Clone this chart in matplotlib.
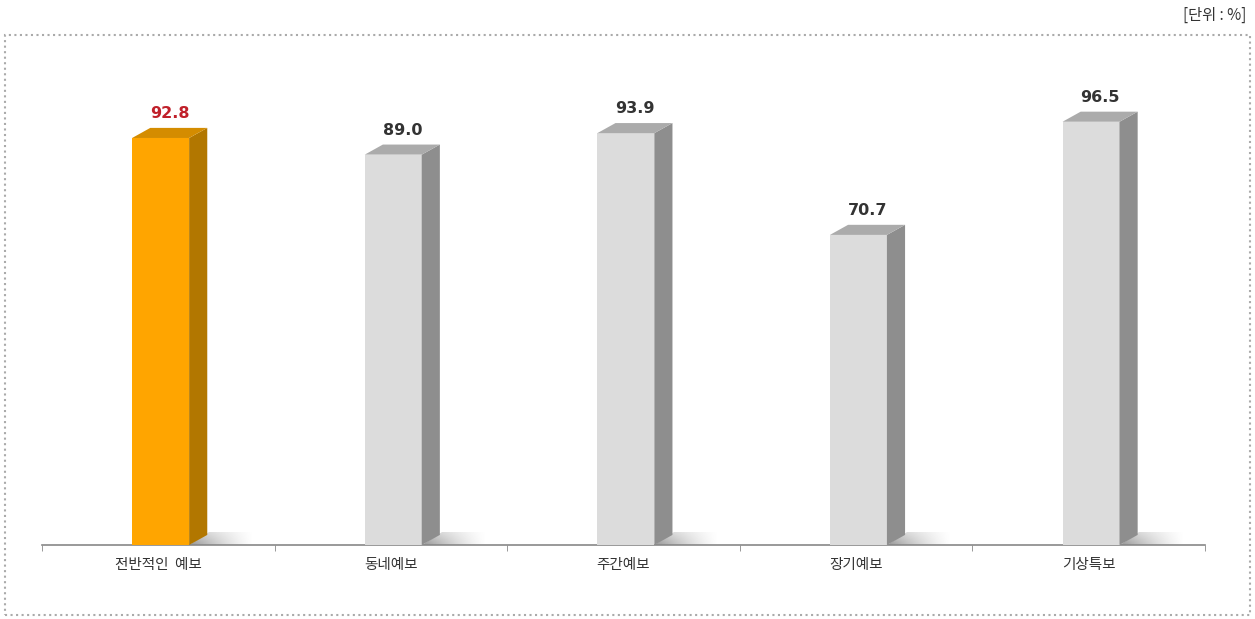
import numpy as np
import matplotlib.pyplot as plt
from matplotlib.patches import Polygon, Rectangle

plt.rcParams['font.family'] = ['Noto Sans CJK KR', 'DejaVu Sans']

# 데이터
categories = ['전반적인  예보', '동네예보', '주간예보', '장기예보', '기상특보']
values = [92.8, 89.0, 93.9, 70.7, 96.5]
highlight = [True, False, False, False, False]

W, H = 1255, 619
fig = plt.figure(figsize=(W / 100, H / 100), dpi=100)

# 축 위치 (픽셀 기준)
x0, x1 = 42, 1205
base_px = 545
top_px = base_px - 4.386 * 100
ax = fig.add_axes([x0 / W, (H - base_px) / H, (x1 - x0) / W, (base_px - top_px) / H])

bw = 0.245       # 앞면 폭
dx = 0.078       # 옆면 깊이
dy = 2.3         # 윗면 높이

# 그림자용 그라데이션
gx = np.linspace(0, 1, 60)
gy = np.linspace(0, 1, 20)
GX, GY = np.meshgrid(gx, gy)
shade = np.zeros((20, 60, 4))
shade[..., :3] = 0.4
shade[..., 3] = 0.7 * (1 - GX) ** 1.3 * (1 - 0.5 * GY)

for i, (v, hl) in enumerate(zip(values, highlight)):
    if hl:
        front, side, top = '#FFA500', '#B27700', '#D48C00'
        tc = '#C0202A'
    else:
        front, side, top = '#DCDCDC', '#8E8E8E', '#ABABAB'
        tc = '#333333'
    xl = i - bw / 2 + 0.01
    xr = xl + bw
    # 바닥 그림자
    sh_h = 3.0
    sh_w = dx + 0.2
    im = ax.imshow(shade, extent=(xr, xr + sh_w, 0, sh_h), origin='lower',
                   aspect='auto', zorder=1, interpolation='bilinear')
    clip = Polygon([(xr, 0), (xr + sh_w, 0), (xr + sh_w, sh_h), (xr + dx * 1.1, sh_h)],
                   closed=True, transform=ax.transData, facecolor='none', edgecolor='none')
    ax.add_patch(clip)
    im.set_clip_path(clip)
    ax.add_patch(Rectangle((xl, 0), bw, v, facecolor=front, edgecolor='none', zorder=3))
    ax.add_patch(Polygon([(xr, 0), (xr + dx, dy), (xr + dx, v + dy), (xr, v)],
                         closed=True, facecolor=side, edgecolor='none', zorder=3))
    ax.add_patch(Polygon([(xl, v), (xr, v), (xr + dx, v + dy), (xl + dx, v + dy)],
                         closed=True, facecolor=top, edgecolor='none', zorder=3))
    ax.annotate(f'{v:.1f}', (i + dx / 2 + 0.01, v + dy), xytext=(0, 5),
                textcoords='offset points', ha='center', va='bottom',
                fontsize=11.5, fontweight='bold', color=tc, family='DejaVu Sans')

ax.set_xlim(-0.5, len(categories) - 0.5)
ax.set_ylim(0, 100)
for s in ['top', 'right', 'left']:
    ax.spines[s].set_visible(False)
ax.spines['bottom'].set_color('#888888')
ax.spines['bottom'].set_linewidth(1.2)
ax.set_yticks([])
ax.set_xticks(range(len(categories)))
ax.set_xticklabels(categories, fontsize=10.5, color='#333333')
ax.tick_params(axis='x', which='major', length=0, pad=9)
ax.set_xticks([i - 0.5 for i in range(len(categories) + 1)], minor=True)
ax.tick_params(axis='x', which='minor', length=4, color='#888888', direction='out')

# 바깥 점선 테두리
fig.patches.append(Rectangle((5 / W, (H - 615) / H), 1245 / W, 580 / H,
                             transform=fig.transFigure, fill=False,
                             edgecolor='#AAAAAA', linestyle=':', linewidth=1.5))
fig.text(1246 / W, 1 - 15 / H, '[단위 : %]', ha='right', va='center',
         fontsize=11, color='#333333')

fig.savefig('out.png', dpi=100)
